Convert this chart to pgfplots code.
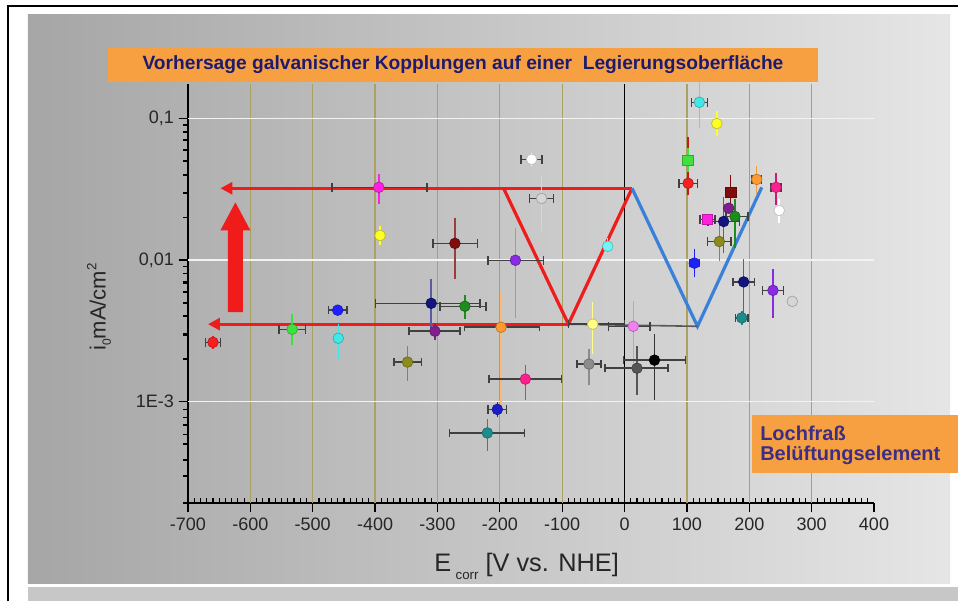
\documentclass[border=0pt]{standalone}
\usepackage{fontspec}
\setmainfont{Liberation Sans}
\usepackage{pgfplots}
\pgfplotsset{compat=1.18}
\usetikzlibrary{arrows.meta}

\definecolor{cRed}{HTML}{F52020}
\definecolor{cLime}{HTML}{40E040}
\definecolor{cBlue}{HTML}{2020FF}
\definecolor{cCyan}{HTML}{40E8E8}
\definecolor{cLtCyan}{HTML}{70F4F4}
\definecolor{cOlive}{HTML}{8C8C1E}
\definecolor{cNavy}{HTML}{14147E}
\definecolor{cPurple}{HTML}{80208F}
\definecolor{cDkGreen}{HTML}{1E8C1E}
\definecolor{cMagenta}{HTML}{FF20E0}
\definecolor{cYellow}{HTML}{FFFF20}
\definecolor{cLtYellow}{HTML}{FFFF88}
\definecolor{cMaroon}{HTML}{800C0C}
\definecolor{cOrange}{HTML}{FF9930}
\definecolor{cFaint}{HTML}{D6D6D6}
\definecolor{cViolet}{HTML}{8A2BE2}
\definecolor{cDeepPink}{HTML}{FF2090}
\definecolor{cMedBlue}{HTML}{1C1CC8}
\definecolor{cTeal}{HTML}{1E8C8C}
\definecolor{cPinkViolet}{HTML}{F080F0}
\definecolor{cGray}{HTML}{8C8C8C}
\definecolor{cDkGray}{HTML}{555555}
\definecolor{xerrc}{HTML}{404040}
\definecolor{cGrid}{HTML}{A9A263}
\definecolor{cBox}{HTML}{F7A042}
\definecolor{cTitle}{HTML}{1E1B6E}
\definecolor{cBoxText}{HTML}{3D2E84}
\definecolor{cArrow}{HTML}{F01C1C}
\definecolor{cVblue}{HTML}{3A80D8}

% mark, colour, x, y, x-, x+, y-, y+, y-error colour
\newcommand{\dpt}[9]{%
 \addplot[forget plot, draw=none, mark=none, error bars/.cd, x dir=both, x explicit,
   error bar style={draw=xerrc, line width=1.1pt},
   error mark options={draw=xerrc, line width=1.1pt, mark size=3.2pt, rotate=90}]
   coordinates {(#3,#4) += (#6,0) -= (#5,0)};
 \addplot[forget plot, draw=none, mark=none, error bars/.cd, y dir=both, y explicit,
   error bar style={draw=#9, line width=1.1pt},
   error mark options={draw=#9, line width=1.1pt, mark size=3.2pt}]
   coordinates {(#3,#4) += (0,#8) -= (0,#7)};
 \addplot[forget plot, only marks, mark=#1, mark size=4pt,
   mark options={fill=#2, draw=#2!75!black, line width=0.5pt}]
   coordinates {(#3,#4)};
}

\begin{document}
\begin{tikzpicture}[x=1pt,y=1pt]
\path[use as bounding box] (-141,-75.75) rectangle (577.5,375);
\fill[white] (-141,-75.75) rectangle (577.5,375);
\shade[left color=black!35, middle color=black!22, right color=black!10] (-120,-62.25) rectangle (571.5,363.75);
\fill[black!22] (-120,-65.25) rectangle (577.5,-75.75);
\draw[black, line width=1.5pt] (-135,-75.75) -- (-135,370.5) -- (577.5,370.5);

% y-axis tick marks (axis left edge at x=0, bottom at y=-2.25pt)
\foreach \v/\len in {0.001/7,0.01/7,0.1/7,
  0.0002/4,0.0003/4,0.0004/4,0.0005/4,0.0006/4,0.0007/4,0.0008/4,0.0009/4,
  0.002/4,0.003/4,0.004/4,0.005/4,0.006/4,0.007/4,0.008/4,0.009/4,
  0.02/4,0.03/4,0.04/4,0.05/4,0.06/4,0.07/4,0.08/4,0.09/4}{
  \pgfmathsetmacro{\yy}{-2.25+314.25*(log10(\v)-log10(0.000192))/(log10(0.175)-log10(0.000192))}
  \draw[black, line width=1.1pt] (0,\yy) -- (-\len,\yy);
}

\begin{axis}[
  at={(0pt,-2.25pt)}, anchor=south west,
  scale only axis, width=514.5pt, height=314.25pt,
  xmin=-700, xmax=400, ymin=1.92e-4, ymax=0.175, ymode=log,
  axis lines*=left, axis line style={black, line width=1.1pt},
  xtick pos=bottom, ytick pos=left,
  xtick={-700,-600,...,400},
  xticklabels={-700,-600,-500,-400,-300,-200,-100,0,100,200,300,400},
  minor xtick={-690,-680,...,390},
  ytick={1e-3,1e-2,1e-1}, yticklabels={1E-3,{0,01},{0,1}},
  tick align=outside, major tick length=7pt, minor tick length=3.5pt,
  tick style={black, line width=0.9pt},
  minor x tick style={yshift=3.5pt},
  ticklabel style={font=\fontsize{13.5}{15}\selectfont, text=black!85},
  xticklabel style={yshift=-1pt},
  /pgf/number format/assume math mode=true,
  clip=false,
]
\pgfplotsinvokeforeach{-600,-500,-400,-300,-200,-100,100,200,300}{
  \draw[cGrid, line width=0.9pt] (axis cs:#1,1.92e-4) -- (axis cs:#1,0.175);}
\pgfplotsinvokeforeach{1e-3,1e-2,1e-1}{
  \draw[white!90!gray, line width=0.9pt] (axis cs:-700,#1) -- (axis cs:400,#1);}
\draw[black, line width=1.1pt] (axis cs:0,1.92e-4) -- (axis cs:0,0.175);

% orange point partly hidden below the arrow
\dpt{*}{cOrange}{-198}{0.00335}{59}{62}{0.00233}{0.00229}{cOrange!70!white}

% red annotations
\addplot[forget plot, cArrow, line width=2.4pt, -{Triangle[length=9pt,width=9pt]}] coordinates {(12,0.0321) (-648,0.0321)};
\addplot[forget plot, cArrow, line width=2.4pt, -{Triangle[length=9pt,width=9pt]}] coordinates {(-90,0.00352) (-668,0.00352)};
\addplot[forget plot, cArrow, line width=2.4pt] coordinates {(-194,0.0321) (-90,0.00352) (12,0.0321)};
\addplot[forget plot, cVblue, line width=2.4pt] coordinates {(12,0.0321) (117,0.0034) (220,0.0326)};
\addplot[forget plot, black!65, line width=1.2pt] coordinates {(-90,0.00352) (117,0.0034)};
\fill[cArrow] (axis cs:-636,0.00428) -- (axis cs:-612,0.00428) -- (axis cs:-612,0.0162)
  -- (axis cs:-600,0.0162) -- (axis cs:-624,0.0255) -- (axis cs:-648,0.0162)
  -- (axis cs:-636,0.0162) -- cycle;

\dpt{*}{cRed}{-660}{0.00262}{12}{12}{0.0001}{0.0001}{cRed}
\dpt{*}{cLime}{-533}{0.00324}{21}{21}{0.00054}{0.00066}{cLime}
\dpt{*}{cBlue}{-460}{0.00442}{15}{15}{0}{0}{cBlue}
\dpt{*}{cCyan}{-459}{0.0028}{0}{0}{0.0007}{0.0005}{cCyan}
\dpt{*}{cOlive}{-348}{0.0019}{22}{22}{0.0004}{0.0004}{cOlive}
\dpt{*}{cNavy}{-310}{0.00494}{89}{78}{0.0014}{0.0019}{cNavy!70!white}
\dpt{*}{cPurple}{-304}{0.00314}{42}{40}{0.0002}{0.0002}{cPurple}
\dpt{*}{cDkGreen}{-256}{0.00471}{40}{34}{0.0006}{0.0006}{cDkGreen}
\dpt{*}{cMagenta}{-394}{0.0326}{75}{77}{0.0058}{0.0051}{cMagenta}
\dpt{*}{cYellow}{-392}{0.0149}{0}{0}{0.0012}{0.0012}{cYellow}
\dpt{*}{cMaroon}{-272}{0.0131}{35}{36}{0.0052}{0.0054}{cMaroon!80!white}
\dpt{*}{white}{-149}{0.0514}{17}{17}{0.002}{0.002}{white}
\dpt{*}{cFaint}{-133}{0.0272}{19}{19}{0.0101}{0.0093}{cFaint}
\dpt{*}{cViolet}{-175}{0.00995}{44}{45}{0.0058}{0.0058}{cViolet!60!white}
\dpt{*}{cLtCyan}{-27}{0.0125}{0}{0}{0.0008}{0.0008}{cLtCyan}
\dpt{*}{cDeepPink}{-159}{0.00144}{58}{58}{0.00034}{0.00026}{cDeepPink}
\dpt{*}{cMedBlue}{-204}{0.00088}{15}{15}{0.00005}{0.00005}{cMedBlue}
\dpt{*}{cTeal}{-220}{0.0006}{61}{60}{0.00012}{0.0001}{cTeal}
\dpt{*}{cLtYellow}{-51}{0.00352}{39}{51}{0.0012}{0.0012}{cLtYellow}
\dpt{*}{cPinkViolet}{14}{0.0034}{40}{27}{0.0014}{0.0014}{cPinkViolet}
\dpt{*}{cGray}{-57}{0.00184}{19}{19}{0.00044}{0.00036}{cGray}
\dpt{*}{cDkGray}{20}{0.00172}{51}{50}{0.00052}{0.00058}{cDkGray}
\dpt{*}{black}{48}{0.00196}{50}{50}{0.00086}{0.00084}{black!80}
\dpt{*}{cCyan}{120}{0.130}{13}{13}{0.038}{0.041}{cCyan}
\dpt{*}{cYellow}{148}{0.092}{0}{0}{0.012}{0.013}{cYellow}
\dpt{*}{cRed}{102}{0.0348}{15}{15}{0.004}{0.034}{cRed!80!black}
\dpt{square*}{cLime}{102}{0.0506}{0}{0}{0.006}{0.007}{cLime}
\dpt{*}{cOrange}{212}{0.0371}{8}{8}{0.006}{0.006}{cOrange}
\dpt{*}{cDeepPink}{243}{0.0326}{8}{8}{0.0062}{0.0057}{cDeepPink!80!black}
\dpt{*}{white}{248}{0.0224}{0}{0}{0.0027}{0.0027}{white}
\dpt{square*}{cMaroon}{170}{0.030}{0}{0}{0.004}{0.007}{cMaroon}
\dpt{*}{cPurple}{167}{0.0232}{0}{0}{0}{0}{cPurple}
\dpt{*}{cDkGreen}{177}{0.0203}{14}{21}{0.0072}{0.005}{cDkGreen}
\dpt{square*}{cMagenta}{133}{0.0194}{12}{12}{0}{0}{cMagenta}
\dpt{*}{cNavy}{159}{0.0187}{25}{25}{0.0066}{0.0073}{cNavy!70!white}
\dpt{*}{cOlive}{152}{0.0135}{19}{19}{0.003}{0.0035}{cOlive}
\dpt{*}{cBlue}{112}{0.0095}{8}{8}{0.0014}{0.0017}{cBlue}
\dpt{*}{cNavy}{191}{0.007}{17}{17}{0.0026}{0.0025}{cNavy!70!white}
\dpt{*}{cViolet}{238}{0.0061}{17}{17}{0.0019}{0.0019}{cViolet}
\dpt{*}{cFaint}{269}{0.0051}{0}{0}{0}{0}{cFaint}
\dpt{*}{cTeal}{188}{0.0039}{10}{10}{0.0002}{0.0002}{cTeal}
\end{axis}

% title box
\node[fill=cBox, minimum width=532.5pt, minimum height=25.5pt, inner sep=0pt,
  text=cTitle, font=\bfseries\fontsize{14.4}{16}\selectfont] at (206.25,326.25)
  {Vorhersage galvanischer Kopplungen auf einer\ \ Legierungsoberfläche};
% Lochfrass box
\fill[cBox] (423,20.25) rectangle (577.5,63.75);
\node[anchor=west, inner sep=0pt, text=cBoxText, font=\bfseries\fontsize{15}{17}\selectfont] at (429,50.25) {Lochfraß};
\node[anchor=west, inner sep=0pt, text=cBoxText, font=\bfseries\fontsize{15}{17}\selectfont] at (429,33.75) {Belüftungselement};
% axis labels
\node[rotate=90, text=black!85, font=\fontsize{16.5}{19}\selectfont] at (-66.75,144.75)
  {i\raisebox{-4pt}{\fontsize{9}{10}\selectfont 0}mA/cm\raisebox{7pt}{\fontsize{10}{10}\selectfont 2}};
\node[text=black!85, font=\fontsize{19}{22}\selectfont] at (254,-49.5)
  {E\,\raisebox{-6pt}{\fontsize{10}{10}\selectfont corr} [V vs. NHE]};
\end{tikzpicture}
\end{document}
